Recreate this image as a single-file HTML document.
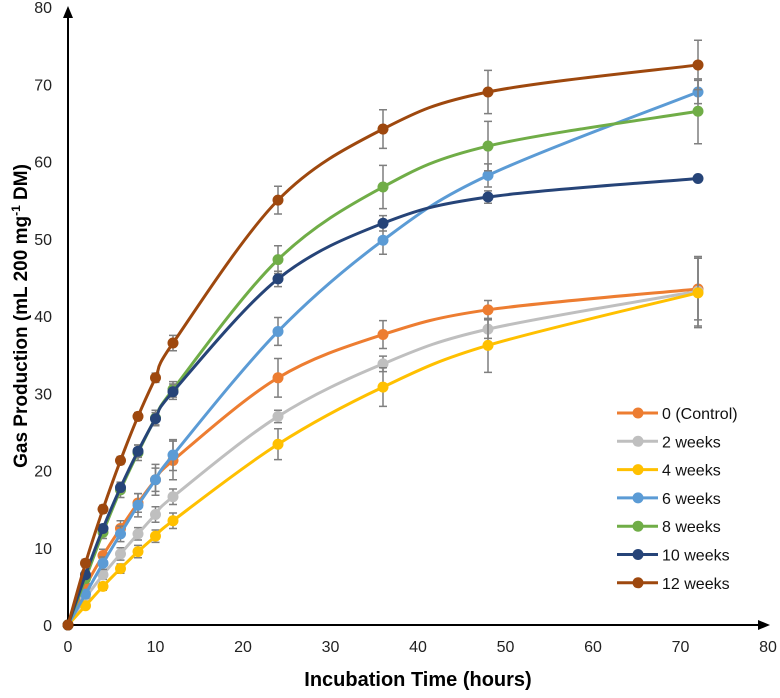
<!DOCTYPE html>
<html><head><meta charset="utf-8"><style>
body{margin:0;background:#fff;font-family:"Liberation Sans",Arial,sans-serif}
svg text{font-family:"Liberation Sans",Arial,sans-serif}
</style></head><body>
<svg id="chart" width="780" height="693">
<g id="axes"></g><g id="series"></g><g id="legend"></g>
<text x="418" y="686" text-anchor="middle" font-size="20" font-weight="bold" fill="#000">Incubation Time (hours)</text>
<text transform="translate(27,316) rotate(-90)" text-anchor="middle" font-size="19" font-weight="bold" fill="#000">Gas Production (mL 200 mg<tspan font-size="12" dy="-7">-1</tspan><tspan dy="7"> DM)</tspan></text>
</svg>
<script>
const times=[0,2,4,6,8,10,12,24,36,48,72];
const seriesNames=["0 (Control)","2 weeks","4 weeks","6 weeks","8 weeks","10 weeks","12 weeks"];
const colors=["#ED7D31","#BFBFBF","#FFC000","#5B9BD5","#70AD47","#264478","#9E480E"];
const control=[0,5,9,12.5,15.8,18.8,21.3,32,37.6,40.8,43.5];
const w2=[0,3.5,6.5,9.2,11.8,14.3,16.6,27,33.8,38.3,43.2];
const w4=[0,2.5,5,7.3,9.5,11.5,13.5,23.4,30.8,36.2,43];
const w6=[0,4,8,11.8,15.5,18.8,22,38,49.8,58.2,69];
const w8=[0,6,12,17.5,22.3,26.8,30.5,47.3,56.7,62,66.5];
const w10=[0,6.5,12.5,17.8,22.5,26.7,30.2,44.8,52,55.4,57.8];
const w12=[0,8,15,21.3,27,32,36.5,55,64.2,69,72.5];
const errControl=[0,0.5,0.8,1,1.2,1.5,2.5,2.5,1.8,1.2,4];
const err2=[0,0.5,0.6,0.8,0.8,1,1,0.8,1,1.2,4.5];
const err4=[0,0.3,0.5,0.6,0.8,0.8,1,2,2.5,3.5,4.5];
const err6=[0,0.5,0.8,1,1.5,2,2,1.8,1.8,1.5,1.5];
const err8=[0,0.5,0.8,1,1,1,1,1.8,2.8,3.2,4.2];
const err10=[0,0.5,0.5,0.6,0.8,0.8,1,1,1,0.8,0];
const err12=[0,0.5,0.5,0.5,0.5,0.6,1,1.8,2.5,2.8,3.2];
const xTicks=[0,10,20,30,40,50,60,70,80];
const yTicks=[0,10,20,30,40,50,60,70,80];
const allSeries=[control,w2,w4,w6,w8,w10,w12];
const allErr=[errControl,err2,err4,err6,err8,err10,err12];
const NS="http://www.w3.org/2000/svg";
const X=v=>68+v*8.75, Y=v=>625-v*7.725;
function mk(t,a,p){const e=document.createElementNS(NS,t);for(const k in a)e.setAttribute(k,a[k]);p.appendChild(e);return e;}
const axes=document.getElementById('axes');
let xa=mk('line',{x1:68,y1:625,x2:762,y2:625,stroke:'#000','stroke-width':2},axes);

mk('path',{d:'M770,625 L758,620 L758,630 Z',fill:'#000'},axes);
let ya=mk('line',{x1:68,y1:625,x2:68,y2:14,stroke:'#000','stroke-width':2},axes);

mk('path',{d:'M68,6 L63,18 L73,18 Z',fill:'#000'},axes);
xTicks.forEach(t=>{const e=mk('text',{x:X(t),y:652,'text-anchor':'middle','font-size':16,fill:'#222'},axes);e.textContent=t;
});
yTicks.forEach(t=>{const e=mk('text',{x:52,y:Y(t)+6,'text-anchor':'end','font-size':16,fill:'#222'},axes);e.textContent=t;
});
function smooth(pts){let d=`M${pts[0][0]},${pts[0][1]}`;
for(let i=0;i<pts.length-1;i++){const p0=pts[i-1]||pts[i],p1=pts[i],p2=pts[i+1],p3=pts[i+2]||p2;
const t=1/6;d+=` C${p1[0]+(p2[0]-p0[0])*t},${p1[1]+(p2[1]-p0[1])*t} ${p2[0]-(p3[0]-p1[0])*t},${p2[1]-(p3[1]-p1[1])*t} ${p2[0]},${p2[1]}`;}
return d;}
const sg=document.getElementById('series');
allSeries.forEach((s,si)=>{const g=mk('g',{},sg);


s.forEach((v,i)=>{const e=allErr[si][i];if(e>0){const x=X(times[i]);
mk('path',{d:`M${x},${Y(v-e)} V${Y(v+e)} M${x-4},${Y(v-e)} H${x+4} M${x-4},${Y(v+e)} H${x+4}`,stroke:'#7f7f7f','stroke-width':1.5,fill:'none'},g);}});
const pts=s.map((v,i)=>[X(times[i]),Y(v)]);
const ln=mk('path',{d:smooth(pts),stroke:colors[si],'stroke-width':3,fill:'none'},g);

pts.forEach(p=>{const c=mk('circle',{cx:p[0],cy:p[1],r:5.5,fill:colors[si]},g);
});
});
const lg=document.getElementById('legend');
seriesNames.forEach((n,i)=>{const y=413+i*28.3;const g=mk('g',{},lg);

mk('line',{x1:617,y1:y,x2:658,y2:y,stroke:colors[i],'stroke-width':3},g);
mk('circle',{cx:638,cy:y,r:5.5,fill:colors[i]},g);
const t=mk('text',{x:662,y:y+6,'font-size':16,fill:'#111'},g);t.textContent=n;});
</script>
</body></html>
